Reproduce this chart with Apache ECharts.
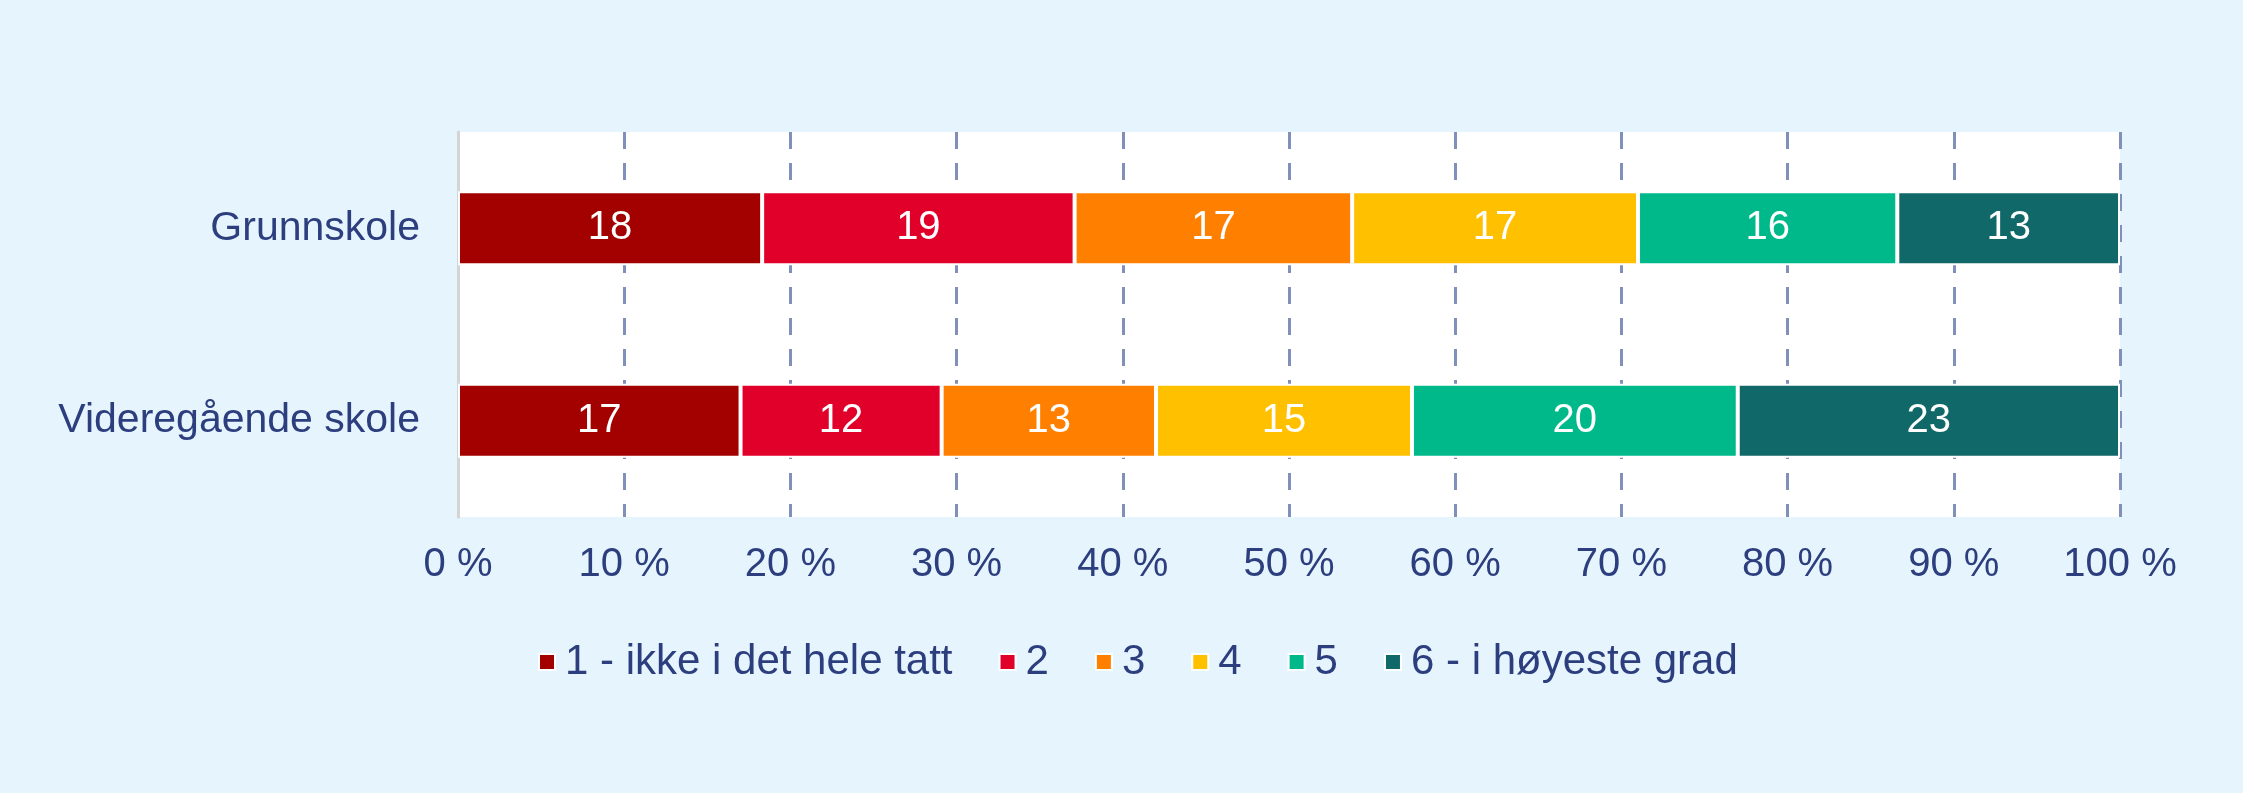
<!DOCTYPE html>
<html>
<head>
<meta charset="utf-8">
<script src="https://cdn.jsdelivr.net/npm/echarts@6/dist/echarts.min.js"></script>
<style>
html, body { margin: 0; padding: 0; background: #e6f5fd; }
#chart { width: 2243px; height: 793px; }
</style>
</head>
<body>
<div id="chart"></div>
<script>
// categories (top to bottom)
const categories = ['Grunnskole', 'Videregående skole'];
// answer levels
const levels = ['1 - ikke i det hele tatt', '2', '3', '4', '5', '6 - i høyeste grad'];
const colors = ['#a30000', '#e0002a', '#ff8000', '#ffc000', '#00b98a', '#116868'];
// share in percent, one array per level: [Grunnskole, Videregående skole]
const level1 = [18.3, 17.0];
const level2 = [18.8, 12.1];
const level3 = [16.7, 12.9];
const level4 = [17.2, 15.4];
const level5 = [15.6, 19.6];
const level6 = [13.4, 23.0];
const seriesValues = [level1, level2, level3, level4, level5, level6];

const textColor = '#2c3e7e';
const font = 'Liberation Sans, Arial, sans-serif';

var myChart = echarts.init(document.getElementById('chart'));
let option = {
	backgroundColor: '#e6f5fd',
	animation: false,
	color: colors,
	grid: {
		left: 458,
		right: 123,
		top: 132,
		bottom: 276,
		show: true,
		backgroundColor: '#ffffff',
		borderWidth: 0
	},
	legend: {
		left: 533,
		top: 636,
		itemWidth: 16,
		itemHeight: 16,
		itemGap: 46,
		icon: 'rect',
		textStyle: {
			color: textColor,
			fontSize: 42,
			fontFamily: font,
			lineHeight: 42,
			padding: [0, 0, 0, 5]
		},
		data: levels
	},
	xAxis: {
		type: 'value',
		min: 0,
		max: 100,
		interval: 10,
		axisLine: { show: false },
		axisTick: { show: false },
		axisLabel: {
			formatter: '{value} %',
			color: textColor,
			fontSize: 40,
			fontFamily: font,
			margin: 28
		},
		splitLine: {
			show: true,
			showMinLine: false,
			lineStyle: {
				color: '#8190b8',
				width: 3,
				type: [17, 14]
			}
		}
	},
	yAxis: {
		type: 'category',
		data: categories,
		inverse: true,
		axisLine: {
			show: true,
			lineStyle: { color: '#d4d4d4', width: 3 }
		},
		axisTick: { show: false },
		axisLabel: {
			color: textColor,
			fontSize: 41,
			fontFamily: font,
			margin: 38
		}
	},
	series: seriesValues.map(function (vals, i) {
		return {
			name: levels[i],
			type: 'bar',
			stack: 'total',
			barWidth: 74,
			data: vals,
			itemStyle: {
				color: colors[i],
				borderColor: '#ffffff',
				borderWidth: 2
			},
			label: {
				show: true,
				position: 'inside',
				color: '#ffffff',
				fontSize: 40,
				fontFamily: font,
				formatter: function (p) {
					return Math.round(p.value);
				}
			}
		};
	})
};
myChart.setOption(option);
</script>
</body>
</html>
